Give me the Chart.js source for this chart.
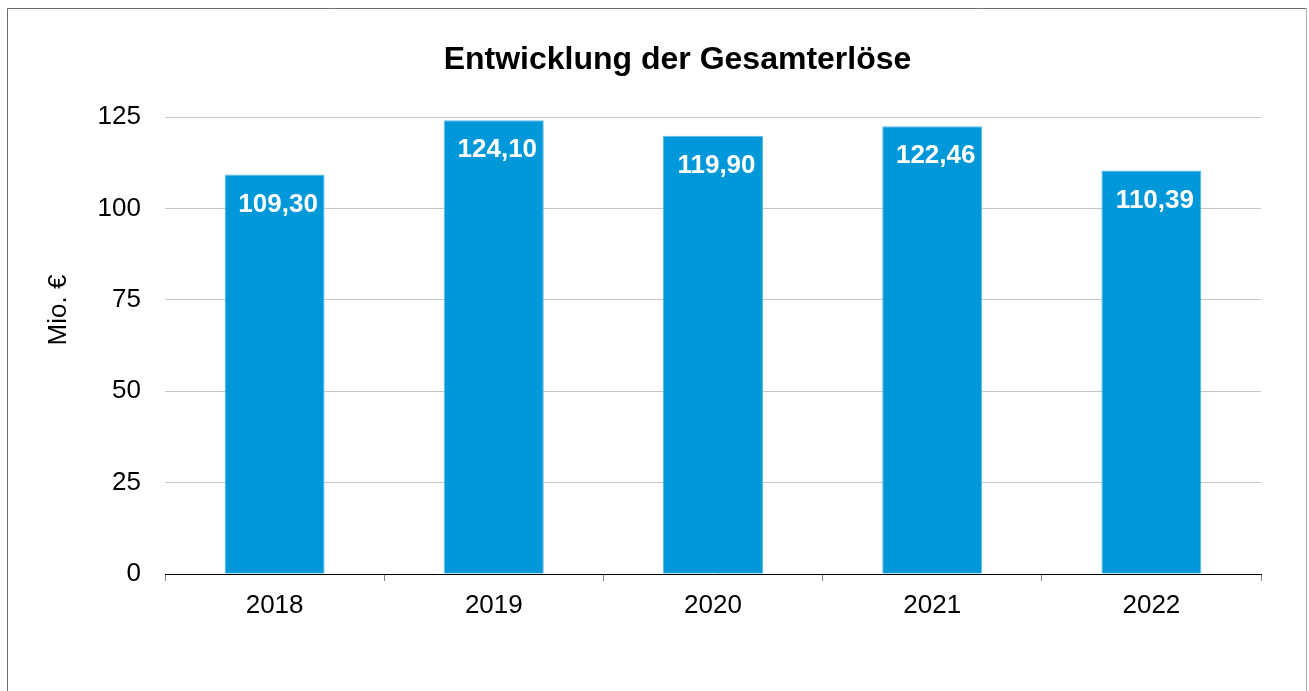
<!DOCTYPE html>
<html>
<head>
<meta charset="utf-8">
<script src="https://cdn.jsdelivr.net/npm/chart.js@4.4.0/dist/chart.umd.min.js"></script>
<style>
  html, body { margin: 0; padding: 0; background: #ffffff; }
  #wrap { position: relative; width: 1309px; height: 691px; }
  canvas { display: block; }
</style>
</head>
<body>
<div id="wrap"><canvas id="c" width="1309" height="691"></canvas></div>
<script>
const categories = ["2018", "2019", "2020", "2021", "2022"];
const revenues = [109.30, 124.10, 119.90, 122.46, 110.39];
const valueLabels = ["109,30", "124,10", "119,90", "122,46", "110,39"];
const yTicks = [0, 25, 50, 75, 100, 125];
const chartTitle = "Entwicklung der Gesamterlöse";
const yAxisTitle = "Mio. €";

const FONT = "'Liberation Sans', Arial, Helvetica, sans-serif";

const framePlugin = {
  id: 'frame',
  beforeDraw(chart) {
    const ctx = chart.ctx;
    ctx.save();
    ctx.fillStyle = '#ffffff';
    ctx.fillRect(0, 0, chart.width, chart.height);
    ctx.lineWidth = 1;
    ctx.strokeStyle = '#6e6e6e';
    ctx.beginPath();
    ctx.moveTo(7.5, chart.height + 2);
    ctx.lineTo(7.5, 8.5);
    ctx.lineTo(1306.5, 8.5);
    ctx.stroke();
    ctx.strokeStyle = '#a8a8a8';
    ctx.beginPath();
    ctx.moveTo(1306.5, 8.5);
    ctx.lineTo(1306.5, chart.height + 2);
    ctx.stroke();
    ctx.restore();
  },
  afterDraw(chart) {
    const ctx = chart.ctx;
    ctx.save();
    ctx.fillStyle = '#000000';
    ctx.textAlign = 'center';
    ctx.textBaseline = 'middle';
    ctx.font = "bold 32px " + FONT;
    ctx.fillText(chartTitle, 677.5, 60);
    ctx.font = "26px " + FONT;
    ctx.translate(58.6, 310);
    ctx.rotate(-Math.PI / 2);
    ctx.fillText(yAxisTitle, 0, 0);
    ctx.restore();
  }
};

const valueLabelPlugin = {
  id: 'valueLabels',
  afterDatasetsDraw(chart) {
    const ctx = chart.ctx;
    const meta = chart.getDatasetMeta(0);
    ctx.save();
    ctx.fillStyle = '#ffffff';
    ctx.font = "bold 26px " + FONT;
    ctx.textAlign = 'center';
    ctx.textBaseline = 'middle';
    meta.data.forEach((bar, i) => {
      ctx.fillText(valueLabels[i], bar.x + 3.5, bar.y + 30);
    });
    ctx.restore();
  }
};

new Chart(document.getElementById('c'), {
  type: 'bar',
  data: {
    labels: categories,
    datasets: [{
      data: revenues,
      backgroundColor: '#0098d8',
      borderColor: '#5ab8e6',
      borderWidth: 1,
      barPercentage: 0.456,
      categoryPercentage: 1.0
    }]
  },
  options: {
    responsive: false,
    animation: false,
    devicePixelRatio: 1,
    layout: { padding: { left: 0, right: 48, top: 117, bottom: 0 } },
    plugins: {
      legend: { display: false },
      tooltip: { enabled: false },
      title: { display: false }
    },
    scales: {
      x: {
        grid: {
          display: true,
          drawOnChartArea: false,
          drawTicks: true,
          tickLength: 7,
          color: '#808080',
          offset: true
        },
        border: { display: true, color: '#000000', width: 1 },
        ticks: {
          color: '#000000',
          font: { family: FONT, size: 26 },
          padding: 9,
          maxRotation: 0
        },
        afterFit(scale) { scale.height = 691 - 574; }
      },
      y: {
        min: 0,
        max: 125,
        afterBuildTicks(scale) { scale.ticks = yTicks.map(v => ({ value: v })); },
        grid: {
          display: true,
          drawTicks: false,
          color: '#c6c6c6',
          lineWidth: 1
        },
        border: { display: false },
        ticks: {
          color: '#000000',
          font: { family: FONT, size: 26 },
          padding: 24
        },
        title: { display: false },
        afterFit(scale) { scale.width = 165; }
      }
    }
  },
  plugins: [framePlugin, valueLabelPlugin]
});
</script>
</body>
</html>
